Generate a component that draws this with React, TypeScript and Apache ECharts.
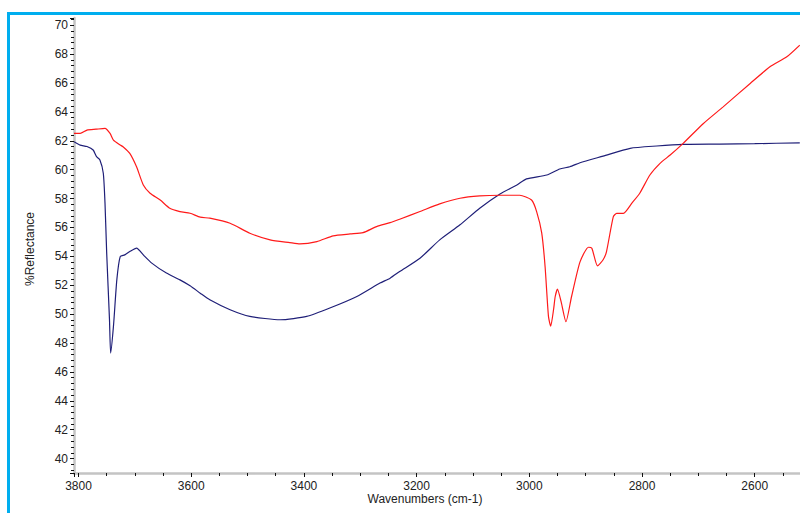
import React, { useEffect, useRef } from "react";
import * as echarts from "echarts";

// Blue spectrum (wavenumber cm-1, %Reflectance)
const blueWavenumbers = [
  3808, 3797, 3785, 3774, 3768, 3762, 3756, 3753, 3750, 3745, 3743, 3738, 3732,
  3726, 3718, 3709, 3697, 3685, 3670, 3644, 3620, 3602, 3584, 3567, 3531, 3496,
  3442, 3395, 3354, 3306, 3265, 3247, 3230, 3194, 3159, 3123, 3088, 3052, 3022,
  3005, 2969, 2946, 2928, 2910, 2869, 2821, 2774, 2727, 2662, 2600, 2520,
];
const blueReflectance = [
  61.93, 61.7, 61.6, 61.36, 60.9, 60.67, 59.75, 57.7, 54.24, 49.6, 47.3, 49.15,
  52.37, 53.98, 54.1, 54.33, 54.57, 54.1, 53.53, 52.84, 52.37, 51.96, 51.45,
  50.99, 50.3, 49.84, 49.61, 49.84, 50.42, 51.22, 52.15, 52.49, 52.95, 53.87,
  55.14, 56.18, 57.33, 58.32, 58.94, 59.36, 59.63, 60.05, 60.2, 60.48, 60.94,
  61.48, 61.64, 61.75, 61.77, 61.8, 61.86,
];

// Red spectrum (wavenumber cm-1, %Reflectance)
const redWavenumbers = [
  3808, 3797, 3785, 3769, 3753, 3744, 3738, 3726, 3721, 3709, 3697, 3685, 3673,
  3655, 3638, 3620, 3602, 3584, 3567, 3531, 3496, 3460, 3425, 3407, 3377, 3348,
  3318, 3295, 3271, 3247, 3230, 3194, 3159, 3123, 3088, 3052, 3017, 2996, 2987,
  2978, 2972, 2966, 2962, 2957, 2954, 2950, 2943, 2935, 2925, 2910, 2895, 2889,
  2879, 2869, 2863, 2851, 2845, 2833, 2818, 2804, 2786, 2768, 2750, 2727, 2691,
  2656, 2608, 2573, 2543, 2520,
];
const redReflectance = [
  62.51, 62.51, 62.74, 62.8, 62.86, 62.51, 62.05, 61.71, 61.59, 61.13, 60.2,
  58.94, 58.37, 57.9, 57.33, 57.1, 56.98, 56.71, 56.64, 56.29, 55.6, 55.14,
  54.95, 54.86, 55.02, 55.42, 55.55, 55.64, 56.06, 56.33, 56.57, 57.1, 57.63,
  58.02, 58.18, 58.23, 58.23, 57.9, 57.1, 55.62, 53.3, 49.84, 49.16, 50.3,
  51.22, 51.73, 50.76, 49.47, 51.22, 53.62, 54.63, 54.56, 53.34, 53.76, 54.33,
  56.73, 56.98, 56.98, 57.68, 58.37, 59.63, 60.44, 61.01, 61.82, 63.2, 64.35,
  65.97, 67.12, 67.81, 68.62,
];

const xTitle = "Wavenumbers (cm-1)";
const yTitle = "%Reflectance";

const FONT = "'Liberation Sans', Arial, sans-serif";

function pairs(xs: number[], ys: number[]) {
  return xs.map((x, i) => [x, ys[i]]);
}

export default function App() {
  const ref = useRef<HTMLDivElement>(null);
  useEffect(() => {
    if (!ref.current) return;
    const chart = echarts.init(ref.current, null, { renderer: "svg" });
    chart.setOption({
      animation: false,
      backgroundColor: "#ffffff",
      grid: {
        left: 74,
        top: 18,
        width: 793.4,
        height: 455,
        containLabel: false,
        outerBoundsMode: "none",
      },
      xAxis: {
        type: "value",
        inverse: true,
        min: 2400,
        max: 3808,
        interval: 200,
        axisLine: { show: true, lineStyle: { color: "#c4c4c4", width: 2.5 } },
        axisTick: { show: true, length: 4, lineStyle: { color: "#111", width: 1 } },
        minorTick: { show: true, splitNumber: 4, length: 3, lineStyle: { color: "#111", width: 1 } },
        splitLine: { show: false },
        axisLabel: {
          color: "#222",
          fontSize: 12,
          fontFamily: FONT,
          margin: 7,
          showMinLabel: false,
          formatter: (v: number) => (v % 200 === 0 && v > 2500 ? String(v) : ""),
        },
      },
      yAxis: {
        type: "value",
        min: 39,
        max: 70.5,
        splitNumber: 15,
        axisLine: { show: true, lineStyle: { color: "#c4c4c4", width: 2.5 } },
        axisTick: { show: true, length: 4, lineStyle: { color: "#111", width: 1 } },
        minorTick: { show: true, splitNumber: 5, length: 3, lineStyle: { color: "#111", width: 1 } },
        splitLine: { show: false },
        axisLabel: {
          color: "#222",
          fontSize: 12,
          fontFamily: FONT,
          margin: 6,
          showMinLabel: false,
          showMaxLabel: false,
          formatter: (v: number) => (v % 2 === 0 ? String(v) : ""),
        },
      },
      series: [
        {
          name: "blue",
          type: "line",
          data: pairs(blueWavenumbers, blueReflectance),
          showSymbol: false,
          smooth: 0.2,
          lineStyle: { color: "#1f1f78", width: 1.2 },
          itemStyle: { color: "#1f1f78" },
        },
        {
          name: "red",
          type: "line",
          data: pairs(redWavenumbers, redReflectance),
          showSymbol: false,
          smooth: 0.2,
          lineStyle: { color: "#ff1a1a", width: 1.2 },
          itemStyle: { color: "#ff1a1a" },
        },
      ],
      graphic: [
        {
          type: "rect",
          shape: { x: 8.5, y: 13.5, width: 1200, height: 1200 },
          style: { fill: "none", stroke: "#00aeef", lineWidth: 3 },
          silent: true,
        },
        {
          type: "text",
          x: 425,
          y: 499,
          style: {
            text: xTitle,
            fill: "#222",
            font: `12px ${FONT}`,
            align: "center",
            verticalAlign: "middle",
          },
        },
        {
          type: "text",
          x: 30,
          y: 249,
          rotation: Math.PI / 2,
          style: {
            text: yTitle,
            fill: "#222",
            font: `12px ${FONT}`,
            align: "center",
            verticalAlign: "middle",
          },
        },
      ],
    });
    return () => chart.dispose();
  }, []);
  return (
    <div
      ref={ref}
      style={{ position: "absolute", left: 0, top: 0, width: 800, height: 513 }}
    />
  );
}
